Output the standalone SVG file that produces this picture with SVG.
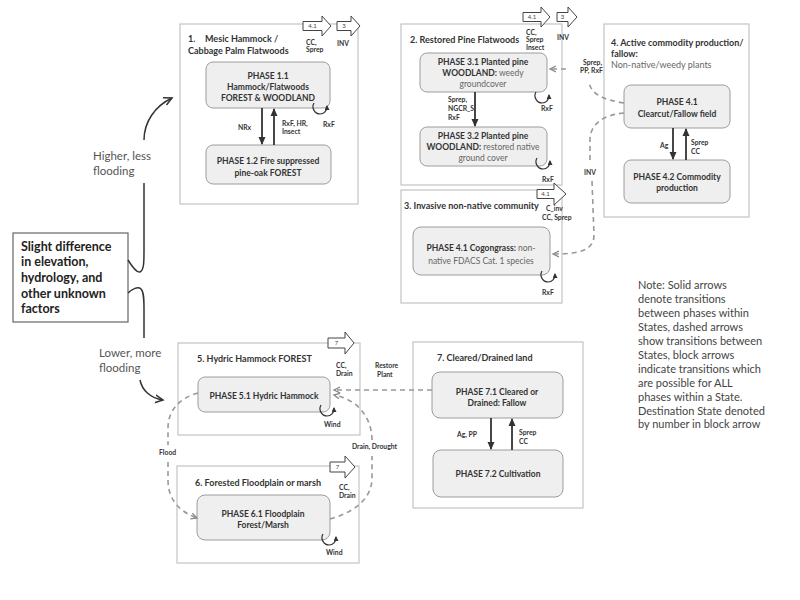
<svg xmlns="http://www.w3.org/2000/svg" width="800" height="600" viewBox="0 0 800 600">
<defs>
<style>
text{font-family:Lato,"Open Sans","Liberation Sans",sans-serif;fill:#333}
.st{fill:#fff;stroke:#c4c4c4;stroke-width:1.2}
.ph{fill:#efefef;stroke:#9c9c9c;stroke-width:1}
.tt{font-size:9px;font-weight:bold}
.pt{font-size:8.5px;font-weight:bold;text-anchor:middle}
.nb{font-weight:normal;fill:#666}
.lb{font-size:6.8px;font-weight:bold}
.blk{fill:#fff;stroke:#444;stroke-width:1}
.bn{font-size:6px;text-anchor:middle;fill:#444}
.sol{fill:none;stroke:#333;stroke-width:1.8}
.dsh{fill:none;stroke:#999;stroke-width:1.6;stroke-dasharray:5 4}
.crv{fill:none;stroke:#333;stroke-width:1.5}
.lp{fill:none;stroke:#333;stroke-width:1.2}
.big{font-size:11.5px;fill:#555}
.note{font-size:11px;fill:#444}
.lft{font-size:12.5px;font-weight:bold;fill:#222}
</style>
<marker id="ah" markerUnits="userSpaceOnUse" markerWidth="8" markerHeight="8" refX="7" refY="4" orient="auto"><path d="M0,0.5 L8,4 L0,7.5 z" fill="#333"/></marker>
<marker id="ahd" markerUnits="userSpaceOnUse" markerWidth="8" markerHeight="8" refX="6" refY="3.5" orient="auto"><path d="M0,0.5 L6,3.5 L0,6.5" fill="none" stroke="#888" stroke-width="1.3"/></marker>
<marker id="ahc" markerUnits="userSpaceOnUse" markerWidth="11" markerHeight="11" refX="8" refY="4.5" orient="auto"><path d="M0,0.5 L8,4.5 L0,8.5" fill="none" stroke="#333" stroke-width="1.5"/></marker>
<marker id="ahl" markerUnits="userSpaceOnUse" markerWidth="6" markerHeight="6" refX="4" refY="2.5" orient="auto"><path d="M0,0 L5,2.5 L0,5 z" fill="#333"/></marker>
<path id="loop" class="lp" d="M -6 -5 C -9 0 -5 6 0 6 C 4 6 7 3 7 -2" marker-end="url(#ahl)"/>
</defs>
<rect width="800" height="600" fill="#fff"/>

<!-- Left driver box -->
<g id="driver">
<rect x="13" y="233" width="115" height="89" fill="#fff" stroke="#666" stroke-width="1.2"/>
<text class="lft" x="21" y="251">Slight difference</text>
<text class="lft" x="21" y="266">in elevation,</text>
<text class="lft" x="21" y="282">hydrology, and</text>
<text class="lft" x="21" y="298">other unknown</text>
<text class="lft" x="21" y="313">factors</text>
</g>

<!-- State 1 -->
<g id="state1">
<rect class="st" x="180" y="24" width="178" height="180"/>
<text class="tt" x="188" y="42">1.</text>
<text class="tt" x="205" y="42">Mesic Hammock /</text>
<text class="tt" x="188" y="54">Cabbage Palm Flatwoods</text>
<g transform="translate(303,26)"><polygon class="blk" points="0,-4.5 19,-4.5 19,-10 28,0 19,10 19,4.5 0,4.5"/><text class="bn" x="9.5" y="2">4.1</text></g>
<g transform="translate(337,26)"><polygon class="blk" points="0,-4.5 14,-4.5 14,-10 23,0 14,10 14,4.5 0,4.5"/><text class="bn" x="7" y="2">3</text></g>
<text class="lb" x="306" y="45">CC,</text>
<text class="lb" x="306" y="52">Sprep</text>
<text class="lb" x="337" y="46">INV</text>
</g>
<g id="phase1_1">
<rect class="ph" x="206" y="62" width="124" height="46" rx="7"/>
<text class="pt" x="268" y="79">PHASE 1.1</text>
<text class="pt" x="268" y="90">Hammock/Flatwoods</text>
<text class="pt" x="268" y="101">FOREST &amp; WOODLAND</text>
</g>
<g id="phase1_2">
<rect class="ph" x="206" y="145" width="125" height="39" rx="7"/>
<text class="pt" x="268" y="164">PHASE 1.2 Fire suppressed</text>
<text class="pt" x="268" y="176">pine-oak FOREST</text>
</g>

<!-- State 2 -->
<g id="state2">
<rect class="st" x="401" y="24" width="161" height="161"/>
<text class="tt" x="410" y="43">2. Restored Pine Flatwoods</text>
<g transform="translate(523,17)"><polygon class="blk" points="0,-4.5 18,-4.5 18,-10 27,0 18,10 18,4.5 0,4.5"/><text class="bn" x="9" y="2">4.1</text></g>
<g transform="translate(557,17)"><polygon class="blk" points="0,-4.5 11,-4.5 11,-10 20,0 11,10 11,4.5 0,4.5"/><text class="bn" x="5.5" y="2">3</text></g>
<text class="lb" x="526" y="35">CC,</text>
<text class="lb" x="526" y="42">Sprep</text>
<text class="lb" x="526" y="50">Insect</text>
<text class="lb" x="557" y="40">INV</text>
</g>
<g id="phase3_1">
<rect class="ph" x="420" y="53" width="127" height="39" rx="7"/>
<text class="pt" x="483" y="65">PHASE 3.1 Planted pine</text>
<text class="pt" x="483" y="76">WOODLAND:<tspan class="nb"> weedy</tspan></text>
<text class="pt nb" x="483" y="87">groundcover</text>
</g>
<g id="phase3_2">
<rect class="ph" x="420" y="127" width="127" height="39" rx="7"/>
<text class="pt" x="483" y="139">PHASE 3.2 Planted pine</text>
<text class="pt" x="483" y="150">WOODLAND:<tspan class="nb"> restored native</tspan></text>
<text class="pt nb" x="483" y="161">ground cover</text>
</g>

<!-- State 3 -->
<g id="state3">
<rect class="st" x="401" y="190" width="161" height="113"/>
<text class="tt" x="404" y="209">3. Invasive non-native community</text>
<g transform="translate(537,194)"><polygon class="blk" points="0,-4.5 17,-4.5 17,-11 29,0 17,11 17,4.5 0,4.5"/><text class="bn" x="8.5" y="2">4.1</text></g>
<text class="lb" x="546" y="211">C_inv</text>
<text class="lb" x="542" y="220">CC, Sprep</text>
</g>
<g id="phase4_1c">
<rect class="ph" x="413" y="227" width="137" height="48" rx="8"/>
<text class="pt" x="481" y="251">PHASE 4.1 Cogongrass:<tspan class="nb"> non-</tspan></text>
<text class="pt nb" x="481" y="264">native FDACS Cat. 1 species</text>
</g>

<!-- State 4 -->
<g id="state4">
<rect class="st" x="604" y="24" width="145" height="193"/>
<text class="tt" x="611" y="46">4. Active commodity production/</text>
<text class="tt" x="611" y="57">fallow:</text>
<text class="tt nb" x="611" y="68">Non-native/weedy plants</text>
</g>
<g id="phase4_1">
<rect class="ph" x="624" y="85" width="106" height="43" rx="7"/>
<text class="pt" x="677" y="105">PHASE 4.1</text>
<text class="pt" x="677" y="117">Clearcut/Fallow field</text>
</g>
<g id="phase4_2">
<rect class="ph" x="624" y="160" width="106" height="43" rx="7"/>
<text class="pt" x="677" y="180">PHASE 4.2 Commodity</text>
<text class="pt" x="677" y="191">production</text>
</g>

<!-- State 5 -->
<g id="state5">
<rect class="st" x="178" y="343" width="182" height="92"/>
<text class="tt" x="197" y="362">5. Hydric Hammock FOREST</text>
<g transform="translate(328,343)"><polygon class="blk" points="0,-5 17,-5 17,-11 26,0 17,11 17,5 0,5"/><text class="bn" x="8.5" y="2">7</text></g>
<text class="lb" x="336" y="368">CC,</text>
<text class="lb" x="336" y="376">Drain</text>
</g>
<g id="phase5_1">
<rect class="ph" x="198" y="377" width="132" height="35" rx="7"/>
<text class="pt" x="264" y="399">PHASE 5.1 Hydric Hammock</text>
</g>

<!-- State 6 -->
<g id="state6">
<rect class="st" x="177" y="466" width="182" height="97"/>
<text class="tt" x="195" y="486">6. Forested Floodplain or marsh</text>
<g transform="translate(330,467)"><polygon class="blk" points="0,-5 15,-5 15,-11 25,0 15,11 15,5 0,5"/><text class="bn" x="7.5" y="2">7</text></g>
<text class="lb" x="339" y="490">CC,</text>
<text class="lb" x="339" y="498">Drain</text>
</g>
<g id="phase6_1">
<rect class="ph" x="197" y="495" width="133" height="45" rx="8"/>
<text class="pt" x="263" y="517">PHASE 6.1 Floodplain</text>
<text class="pt" x="263" y="528">Forest/Marsh</text>
</g>

<!-- State 7 -->
<g id="state7">
<rect class="st" x="413" y="342" width="170" height="166"/>
<text class="tt" x="437" y="361">7. Cleared/Drained land</text>
</g>
<g id="phase7_1">
<rect class="ph" x="432" y="372" width="131" height="46" rx="8"/>
<text class="pt" x="497" y="395">PHASE 7.1 Cleared or</text>
<text class="pt" x="497" y="406">Drained: Fallow</text>
</g>
<g id="phase7_2">
<rect class="ph" x="433" y="450" width="130" height="47" rx="8"/>
<text class="pt" x="498" y="477">PHASE 7.2 Cultivation</text>
</g>

<!-- Note -->
<g id="note">
<text class="note" x="638" y="289">Note:  Solid arrows</text>
<text class="note" x="638" y="303">denote transitions</text>
<text class="note" x="638" y="317">between phases within</text>
<text class="note" x="638" y="331">States, dashed arrows</text>
<text class="note" x="638" y="345">show transitions between</text>
<text class="note" x="638" y="359">States, block arrows</text>
<text class="note" x="638" y="373">indicate transitions which</text>
<text class="note" x="638" y="387">are possible for ALL</text>
<text class="note" x="638" y="401">phases within a State.</text>
<text class="note" x="638" y="415">Destination State denoted</text>
<text class="note" x="638" y="428">by number in block arrow</text>
</g>

<!-- Connectors -->
<g id="connectors">
<!-- driver curves -->
<path class="crv" d="M 128 260 C 133 268 137 273 140 272 C 144 270 144 262 144 250 L 144 183"/>
<path class="crv" d="M 144 140 C 144 122 155 106 172 98" marker-end="url(#ahc)"/>
<text class="big" x="93" y="160">Higher, less</text>
<text class="big" x="93" y="175">flooding</text>
<path class="crv" d="M 128 293 C 132 289 138 286 141 289 C 144 292 144 300 144 310 L 144 338"/>
<path class="crv" d="M 140 380 C 142 390 150 398 163 400" marker-end="url(#ahc)"/>
<text class="big" x="99" y="357">Lower, more</text>
<text class="big" x="99" y="372">flooding</text>

<!-- within-state solid arrows -->
<line class="sol" x1="262" y1="108" x2="262" y2="144" marker-end="url(#ah)"/>
<line class="sol" x1="274" y1="145" x2="274" y2="109" marker-end="url(#ah)"/>
<text class="lb" x="238" y="130">NRx</text>
<text class="lb" x="282" y="126">RxF, HR,</text>
<text class="lb" x="282" y="134">Insect</text>
<line class="sol" x1="475" y1="92" x2="475" y2="126" marker-end="url(#ah)"/>
<text class="lb" x="448" y="102">Sprep,</text>
<text class="lb" x="448" y="111">NGCR_S</text>
<text class="lb" x="448" y="120">RxF</text>
<line class="sol" x1="673" y1="128" x2="673" y2="159" marker-end="url(#ah)"/>
<line class="sol" x1="686" y1="160" x2="686" y2="129" marker-end="url(#ah)"/>
<text class="lb" x="660" y="148">Ag</text>
<text class="lb" x="691" y="145">Sprep</text>
<text class="lb" x="691" y="154">CC</text>
<line class="sol" x1="491" y1="418" x2="491" y2="449" marker-end="url(#ah)"/>
<line class="sol" x1="512" y1="450" x2="512" y2="419" marker-end="url(#ah)"/>
<text class="lb" x="457" y="437">Ag, PP</text>
<text class="lb" x="519" y="435">Sprep</text>
<text class="lb" x="519" y="444">CC</text>

<!-- loops -->
<use href="#loop" x="320" y="108"/>
<text class="lb" x="323" y="127">RxF</text>
<use href="#loop" x="542" y="97"/>
<text class="lb" x="541" y="111">RxF</text>
<use href="#loop" x="543" y="163"/>
<text class="lb" x="542" y="182">RxF</text>
<use href="#loop" x="548" y="276"/>
<text class="lb" x="542" y="295">RxF</text>
<use href="#loop" x="327" y="410"/>
<text class="lb" x="324" y="427">Wind</text>
<use href="#loop" x="329" y="539"/>
<text class="lb" x="326" y="555">Wind</text>

<!-- between-state dashed arrows -->
<path class="dsh" d="M 624 103 C 605 100 591 95 589 82"/>
<path class="dsh" d="M 566 69 L 550 69" marker-end="url(#ahd)"/>
<text class="lb" x="583" y="65">Sprep,</text>
<text class="lb" x="580" y="73">PP, RxF</text>
<path class="dsh" d="M 624 113 C 602 115 590 125 590 140 L 590 163"/>
<path class="dsh" d="M 592 181 L 594 235 C 594 250 580 254 553 254" marker-end="url(#ahd)"/>
<text class="lb" x="584" y="175">INV</text>
<path class="dsh" d="M 432 390 L 334 390" marker-end="url(#ahd)"/>
<text class="lb" x="375" y="368">Restore</text>
<text class="lb" x="377" y="377">Plant</text>
<path class="dsh" d="M 330 519 C 352 513 372 500 372 478 L 372 456"/>
<path class="dsh" d="M 372 440 C 372 420 360 400 334 395" marker-end="url(#ahd)"/>
<text class="lb" x="352" y="449">Drain, Drought</text>
<path class="dsh" d="M 198 393 C 180 398 168 410 168 428 L 168 445"/>
<path class="dsh" d="M 168 462 L 168 480 C 168 500 180 512 197 518" marker-end="url(#ahd)"/>
<text class="lb" x="159" y="455">Flood</text>
</g>
</svg>
